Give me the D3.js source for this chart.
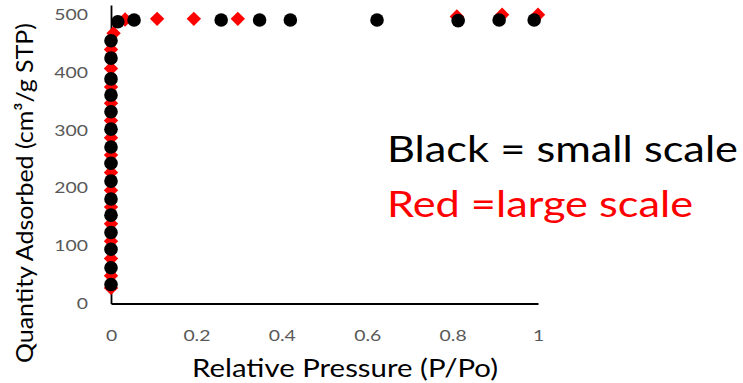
<!DOCTYPE html>
<html>
<head>
<meta charset="utf-8">
<script src="https://cdn.jsdelivr.net/npm/d3@7"></script>
<style>
  html, body { margin: 0; padding: 0; background: #fff; }
  svg { display: block; }
  text { font-family: Lato, "Open Sans", sans-serif; }
</style>
</head>
<body>
<svg id="chart" width="743" height="383"></svg>
<script>
// ---- data ----
const smallX = [0, 0, 0, 0, 0, 0, 0, 0, 0, 0, 0, 0, 0, 0, 0,
                0.016, 0.054, 0.258, 0.348, 0.42, 0.623, 0.813, 0.909, 0.991];
const smallY = [33, 62, 94, 123, 153, 181, 212, 243, 271, 302, 332, 361, 389, 425, 455,
                488, 491, 491, 491, 491, 491, 490, 491, 491];
const largeX = [0, 0, 0, 0, 0, 0, 0, 0, 0, 0, 0, 0, 0, 0, 0, 0.006,
                0.033, 0.108, 0.194, 0.297, 0.81, 0.916, 1.0];
const largeY = [27, 48, 78, 108, 138, 167, 196, 227, 257, 287, 317, 347, 375, 407, 440, 468,
                492, 493, 493, 493, 497, 500, 500];
const xTicks = [0, 0.2, 0.4, 0.6, 0.8, 1];
const xTickLabels = ["0", "0.2", "0.4", "0.6", "0.8", "1"];
const yTicks = [0, 100, 200, 300, 400, 500];
const yTickLabels = ["0", "100", "200", "300", "400", "500"];
const xTitle = "Relative Pressure (P/Po)";
const yTitle = "Quantity Adsorbed (cm\u00B3/g STP)";
const legendLines = ["Black = small scale", "Red =large scale"];

// ---- layout ----
const svg = d3.select("#chart");
const x = d3.scaleLinear().domain([0, 1]).range([111, 538]);
const y = d3.scaleLinear().domain([0, 517]).range([303.5, 5]);

function fit(sel, w) {
  sel.attr("textLength", w).attr("lengthAdjust", "spacingAndGlyphs");
}

// axes
const xAxis = svg.append("g")
  .attr("transform", `translate(0,${y(0)})`)
  .call(d3.axisBottom(x).tickValues(xTicks).tickFormat((d, i) => xTickLabels[i])
        .tickSize(0).tickSizeOuter(0).tickPadding(26.5));
const yAxis = svg.append("g")
  .attr("transform", `translate(${x(0)},0)`)
  .call(d3.axisLeft(y).tickValues(yTicks).tickFormat((d, i) => yTickLabels[i])
        .tickSize(0).tickSizeOuter(0).tickPadding(23));

[xAxis, yAxis].forEach(g => {
  g.select(".domain").attr("stroke", "#000").attr("stroke-width", 1.8);
  g.selectAll(".tick text")
    .attr("fill", "#595959")
    .style("font-family", "Lato, 'Open Sans', sans-serif")
    .style("font-size", "15.5px")
    .each(function () {
      const t = d3.select(this);
      const w = this.getComputedTextLength();
      fit(t, w * 1.25);
    });
});

// diamond symbol
const diamond = {
  draw(ctx, size) {
    const r = Math.sqrt(size / 2);
    ctx.moveTo(0, -r); ctx.lineTo(r, 0); ctx.lineTo(0, r); ctx.lineTo(-r, 0); ctx.closePath();
  }
};

// red (large scale) first, black (small scale) on top
svg.append("g").selectAll("path")
  .data(largeX.map((d, i) => [d, largeY[i]]))
  .join("path")
  .attr("transform", d => `translate(${x(d[0])},${y(d[1])})`)
  .attr("d", d3.symbol().type(diamond).size(2 * 7.2 * 7.2))
  .attr("fill", "#FF0000");

svg.append("g").selectAll("circle")
  .data(smallX.map((d, i) => [d, smallY[i]]))
  .join("circle")
  .attr("cx", d => x(d[0]))
  .attr("cy", d => y(d[1]))
  .attr("r", 6.8)
  .attr("fill", "#000");

// axis titles
svg.append("text")
  .attr("x", 192).attr("y", 377)
  .style("font-size", "25px").attr("fill", "#000")
  .text(xTitle)
  .call(fit, 306);

svg.append("text")
  .attr("transform", "translate(33,363) rotate(-90)")
  .style("font-size", "24px").attr("fill", "#000")
  .text(yTitle)
  .call(fit, 340);

// annotation text
svg.append("text")
  .attr("x", 387).attr("y", 162)
  .style("font-size", "37.5px").attr("fill", "#000")
  .text(legendLines[0])
  .call(fit, 351);
svg.append("text")
  .attr("x", 387).attr("y", 217)
  .style("font-size", "37.5px").attr("fill", "#FF0000")
  .text(legendLines[1])
  .call(fit, 306);
</script>
</body>
</html>
